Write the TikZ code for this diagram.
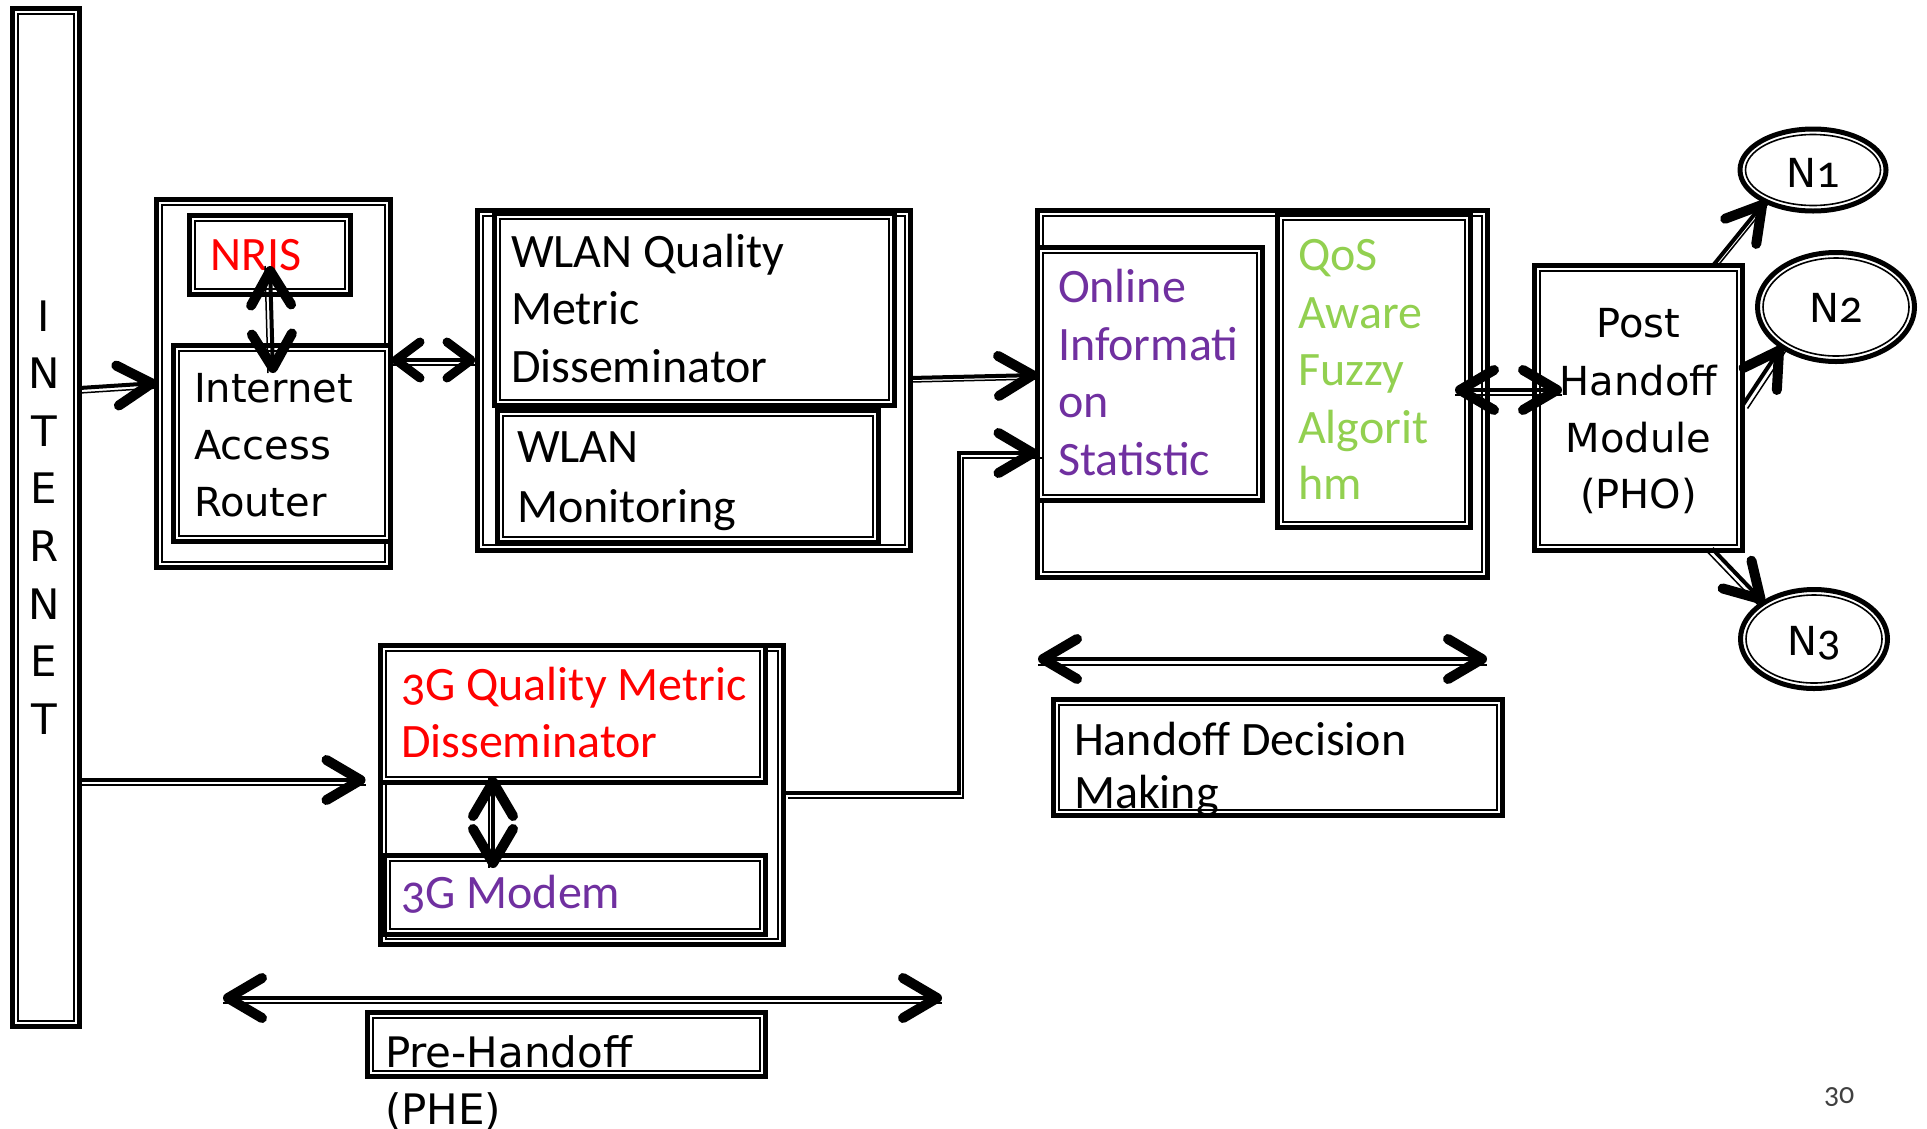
\documentclass[tikz,border=0pt]{standalone}
\usepackage{fontspec}
\setmainfont{Carlito}[Numbers=OldStyle]
\newfontfamily\corfam{Carlito}[Numbers=OldStyle]
\newfontfamily\dvfam{DejaVu Sans}
\usetikzlibrary{arrows.meta,calc,shapes.geometric}

\definecolor{hotred}{HTML}{FF0000}
\definecolor{plum}{HTML}{7030A0}
\definecolor{leaf}{HTML}{92D050}
\definecolor{pagegrey}{HTML}{404040}

\newcommand\labcor{\corfam\fontsize{48}{57}\selectfont}
\newcommand\labdv{\dvfam\fontsize{40}{57}\selectfont}
\newcommand\labinet{\dvfam\fontsize{42}{57}\selectfont}
\newcommand\labnarrow{\dvfam\fontsize{42}{57}\selectfont}
\newcommand\labdigit{\corfam\fontsize{46}{57}\selectfont}

\tikzset{
  x=1pt, y=-1pt,
  >={Straight Barb[length=34pt,width=40pt,line width=10pt,round]},
  smallbarb/.style={>={Straight Barb[length=24pt,width=36pt,line width=9pt,round]}},
  frame/.style={draw, line width=5pt, outer sep=0pt, inner sep=0pt, anchor=north west},
  rim/.style={line width=1.6pt},
  link/.style={line width=4pt,
    postaction={draw, arrows=-, line width=1.5pt, transform canvas={shift={(#1)}}}},
  link/.default={0,5},
  lbl/.style={anchor=base west, inner sep=0pt, outer sep=0pt},
  clbl/.style={anchor=base, inner sep=0pt, outer sep=0pt},
}

% thick-thin framed rectangle: name, corners of the thick line
\newcommand\dblbox[6][]{%
  \node[frame,#1,minimum width={#5-#3},minimum height={#6-#4}] (#2) at (#3,#4) {};
  \draw[rim] ($(#2.north west)+(5.5,5.5)$) rectangle ($(#2.south east)+(-5.5,-5.5)$);
}
% thick-thin framed ellipse: name, centre, radii
\newcommand\dblell[5]{%
  \node[ellipse, draw, line width=5pt, outer sep=0pt, inner sep=0pt,
        minimum width={2*(#4)}, minimum height={2*(#5)}] (#1) at (#2,#3) {};
  \draw[rim] (#1.center) ellipse [x radius={#4-5.5}, y radius={#5-5.5}];
}

\begin{document}
\begin{tikzpicture}
\fill[white] (0,0) rectangle (1927,1128);
\useasboundingbox (0,0) rectangle (1927,1128);

% outer frames
\dblbox{inet}{12.5}{8.5}{79.5}{1026.5}
\dblbox{iar}{156.5}{199.5}{390.5}{567.5}
\dblbox{wlan}{477.5}{210.5}{910.5}{550.5}
\dblbox{hdm}{1037.5}{210.5}{1487.5}{577.5}
\dblbox{tg}{380.5}{645.5}{783.5}{944.5}

% inner frames
\dblbox[fill=white]{nris}{189.5}{215.5}{350.5}{294.5}
\dblbox[fill=white]{router}{173.5}{345.5}{390.5}{541.5}
\dblbox[fill=white]{wqmd}{494.5}{213.5}{894.5}{405.5}
\dblbox[fill=white]{wmon}{497.5}{410.5}{878.5}{542.5}
\dblbox[fill=white]{onl}{1037.5}{247.5}{1262.5}{500.5}
\dblbox[fill=white]{qos}{1277.5}{214.5}{1470.5}{527.5}
\dblbox[fill=white]{tgq}{380.5}{645.5}{765.5}{782.5}
\dblbox[fill=white]{tgm}{384.5}{855.5}{765.5}{934.5}
\dblbox[fill=white]{pho}{1534.5}{265.5}{1742.5}{550.5}
\dblbox[fill=white]{hdmlab}{1053.5}{699.5}{1502.5}{815.5}
\dblbox[fill=white]{phelab}{367.5}{1012.5}{765.5}{1076.5}

% target networks
\dblell{n1}{1813}{170}{73}{41}
\dblell{n2}{1836}{307}{78.5}{54.5}
\dblell{n3}{1814}{639}{73.5}{49.5}

% vertical INTERNET label
\foreach \ch [count=\i] in {I,N,T,E,R,N,E,T}
  \node[clbl, font=\labinet] (inetch\i) at (44,{331+57.6*(\i-1)}) {\ch};

% texts
\node[lbl, font=\labcor, text=hotred] (nristxt) at (210,270) {NRIS};
\node[lbl, font=\labdv] (rt1) at (194,402) {Internet};
\node[lbl, font=\labdv] (rt2) at (194,459) {Access};
\node[lbl, font=\labdv] (rt3) at (194,516) {Router};

\node[lbl, font=\labcor] (wq1) at (511,267) {WLAN Quality};
\node[lbl, font=\labcor] (wq2) at (511,324.5) {Metric};
\node[lbl, font=\labcor] (wq3) at (511,382) {Disseminator};
\node[lbl, font=\labcor] (wm1) at (517,462) {WLAN};
\node[lbl, font=\labcor] (wm2) at (517,522) {Monitoring};

\node[lbl, font=\labcor, text=plum] (on1) at (1058,302) {Online};
\node[lbl, font=\labcor, text=plum] (on2) at (1058,360) {Informati};
\node[lbl, font=\labcor, text=plum] (on3) at (1058,417) {on};
\node[lbl, font=\labcor, text=plum] (on4) at (1058,475) {Statistic};

\node[lbl, font=\labcor, text=leaf] (qs1) at (1298,270) {QoS};
\node[lbl, font=\labcor, text=leaf] (qs2) at (1298,328) {Aware};
\node[lbl, font=\labcor, text=leaf] (qs3) at (1298,385) {Fuzzy};
\node[lbl, font=\labcor, text=leaf] (qs4) at (1298,443) {Algorit};
\node[lbl, font=\labcor, text=leaf] (qs5) at (1298,499) {hm};

\node[clbl, font=\labdv] (ph1) at (1638.5,337) {Post};
\node[clbl, font=\labdv] (ph2) at (1638.5,395) {Handoff};
\node[clbl, font=\labdv] (ph3) at (1638.5,452) {Module};
\node[clbl, font=\labdv] (ph4) at (1638.5,508) {(PHO)};

\node[clbl, font=\labdv] (n1txt) at (1813,187) {N{\labdigit 1}};
\node[clbl, font=\labdv] (n2txt) at (1836,322) {N{\labdigit 2}};
\node[clbl, font=\labdv] (n3txt) at (1814,655) {N{\labdigit 3}};

\node[lbl, font=\labcor, text=hotred] (tq1) at (401,700) {3G Quality Metric};
\node[lbl, font=\labcor, text=hotred] (tq2) at (401,757) {Disseminator};
\node[lbl, font=\labcor, text=plum] (tm1) at (401,908) {3G Modem};

\node[lbl, font=\labcor] (hd1) at (1074,755) {Handoff Decision};
\node[lbl, font=\labcor] (hd2) at (1074,808) {Making};

\node[lbl, font=\labnarrow] (pe1) at (385,1067) {Pre-Handoff};
\node[lbl, font=\labnarrow] (pe2) at (385,1124) {(PHE)};

\node[lbl, font=\corfam\fontsize{30}{36}\selectfont, text=pagegrey] (pgno) at (1824,1103) {30};

% span markers
\coordinate (hdmL) at (1038,659);
\coordinate (hdmR) at (1487,659);
\coordinate (pheL) at (223,998);
\coordinate (pheR) at (942,998);

% connectors
\draw[link, ->] (inet.east |- 0,388) -- (iar.west |- 0,383);
\draw[link, smallbarb, <->] ($(iar.east |- 0,360)+(1,0)$) -- ($(wlan.west |- 0,360)+(-2,0)$);
\draw[link={-5,0}, <->] ($(nris.south)+(0,-28.5)$) -- ($(router.north)+(-9,27.5)$);
\draw[link={0,4}, ->] (wlan.east |- 0,378) -- (onl.west |- 0,375);
\draw[link={4.5,5}, ->] (tg.east |- 0,793) -| ($(onl.west |- 0,453)+(-79,0)$) -- (onl.west |- 0,453);
\draw[link, <->] ($(qos.east |- 0,390)+(-15.5,0)$) -- ($(pho.west |- 0,390)+(27.5,0)$);
\draw[link={5,0}, ->] ($(pho.north east)+(-29.5,0)$) -- (n1.213);
\draw[link={5,3}, ->] ($(pho.north east)+(0,140)$) -- (n2.216);
\draw[link={-4,4}, ->] ($(pho.south east)+(-30.5,-2)$) -- (n3.144);
\draw[link, ->] (inet.east |- 0,780) -- ($(tgq.west |- 0,780)+(-15,0)$);
\draw[link={-4,0}, <->] ($(tgq.south)+(-80,-5.5)$) -- ($(tgm.north)+(-82,12.5)$);
\draw[link={0,6}, <->] (hdmL) -- (hdmR);
\draw[link, <->] (pheL) -- (pheR);
\end{tikzpicture}
\end{document}
